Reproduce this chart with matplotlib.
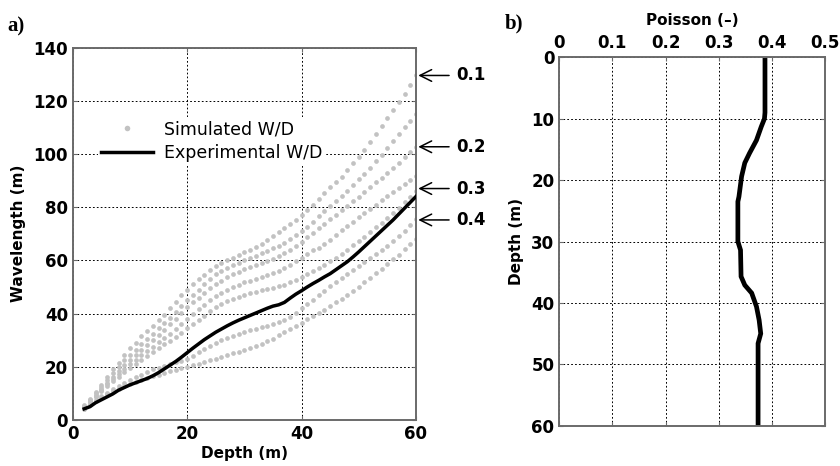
import matplotlib
matplotlib.use("Agg")
import matplotlib.pyplot as plt
from matplotlib.lines import Line2D

# ---------------------------------------------------------------- data
# simulated W/D curves, one value per metre of depth (2 .. 60 m)
depth_sim = list(range(2, 61))

sim_01 = [5.5, 8, 10.5, 13, 16, 19, 21.5, 24.5, 27, 29, 31.5, 33.5, 35.5, 37.5, 39.5,
          42, 44.5, 47, 49, 51, 53, 54.5, 56.5, 58, 59, 60, 61, 62, 63, 64,
          65, 66, 67.5, 69, 70.5, 72, 73.5, 75, 77, 79, 81, 83, 85.5, 87.5, 89.5,
          91.5, 94, 96.5, 99, 101.5, 104.5, 107.5, 110.5, 113.5, 116.5, 119.5, 122.5, 126, 129.5]
sim_015 = [5.2, 7.5, 10, 12.5, 15, 17.5, 20, 22.5, 24.5, 26.5, 28.5, 30.5, 32.5, 34.5, 36.5,
           38.5, 40.5, 43, 45, 47, 49, 51, 53, 54.8, 56, 57.2, 58.2, 59.2, 60, 60.8,
           61.7, 62.6, 63.5, 64.5, 65.5, 66.7, 68, 69.5, 71, 72.7, 74.5, 76.5, 78.5, 80.5, 82.3,
           84.2, 86.2, 88.3, 90.4, 92.6, 94.8, 97.2, 99.7, 102.2, 104.8, 107.4, 110, 112.5, 115]
sim_02 = [5, 7.2, 9.5, 11.8, 14, 16.3, 18.5, 20.6, 22.6, 24.5, 26.4, 28.3, 30.2, 32, 34,
          36, 38, 40.2, 42.4, 44.3, 46, 47.8, 49.5, 51, 52.4, 53.6, 54.7, 55.7, 56.6, 57.4,
          58.2, 59, 59.8, 60.7, 61.6, 62.7, 64, 65.5, 67, 68.6, 70.3, 72, 73.8, 75.5, 77.2,
          78.9, 80.6, 82.3, 84, 85.8, 87.5, 89.3, 91.1, 92.9, 94.8, 96.7, 98.7, 100.7, 102.7]
sim_025 = [4.8, 7, 9.2, 11.3, 13.4, 15.4, 17.3, 19.2, 21, 22.7, 24.4, 26, 27.6, 29.2, 30.8,
           32.5, 34.3, 36.2, 38.1, 39.9, 41.6, 43.3, 45, 46.5, 47.8, 49, 50, 50.9, 51.7, 52.4,
           53.1, 53.8, 54.5, 55.3, 56.1, 57.1, 58.3, 59.6, 61, 62.5, 64, 64.5, 66, 67.8, 69.6,
           71.3, 73, 74.6, 76.2, 77.8, 79.4, 81, 82.6, 84.2, 85.8, 87.3, 88.8, 90.3, 91.8]
sim_03 = [4.6, 6.7, 8.8, 10.8, 12.7, 14.5, 16.2, 17.9, 19.5, 21, 22.5, 24, 25.5, 27, 28.4,
          29.8, 31.3, 32.8, 34.4, 36, 37.6, 39.2, 40.8, 42.3, 43.6, 44.7, 45.6, 46.4, 47.1, 47.7,
          48.2, 48.7, 49.2, 49.7, 50.2, 50.9, 51.8, 52.8, 53.9, 55, 56.1, 57.2, 58.3, 59.6, 61,
          62.5, 64, 65.6, 67.2, 68.9, 70.6, 72.4, 74.2, 76, 77.8, 79.8, 81.8, 83.9, 86]
sim_04 = [4.2, 5.9, 7.5, 9, 10.3, 11.5, 12.7, 13.9, 15, 16.1, 17.1, 18.1, 19.1, 19.6, 20.3,
          21, 21.7, 22.3, 23, 24.2, 25.4, 26.6, 27.8, 29, 30, 30.9, 31.7, 32.4, 33.1, 33.7,
          34.3, 34.9, 35.5, 36.1, 36.7, 37.5, 38.8, 40.3, 42, 43.6, 45.2, 46.9, 48.6, 50.2, 51.8,
          53.3, 54.8, 56.3, 57.8, 59.3, 60.8, 62.3, 63.8, 65.4, 67.2, 69, 71, 73.2, 75.4]
sim_045 = [4, 5.5, 7, 8.4, 9.6, 10.8, 11.8, 12.7, 13.5, 14.3, 15, 15.7, 16.4, 17.1, 17.7,
           18.3, 18.9, 19.4, 20, 20.6, 21.2, 21.9, 22.5, 23.1, 23.7, 24.3, 25, 25.6, 26.2, 27,
           27.8, 28.7, 29.6, 30.6, 31.8, 33, 34.2, 35.4, 36.6, 37.8, 39, 40.2, 41.5, 43, 44.3,
           45.6, 47, 48.5, 50, 51.7, 53.4, 55.1, 56.8, 58.6, 60.4, 62.2, 64.1, 66, 68]
sim_curves = [sim_01, sim_015, sim_02, sim_025, sim_03, sim_04, sim_045]

# experimental W/D
exp_wd = [4.2, 5, 6.5, 7.6, 8.7, 9.8, 11.2, 12.2, 13.2, 14, 14.8, 15.6, 16.6, 17.8, 19.2,
          20.6, 22, 23.6, 25.3, 27, 28.6, 30.2, 31.6, 33, 34.2, 35.4, 36.5, 37.5, 38.4, 39.3,
          40.2, 41.1, 42, 42.8, 43.3, 44.2, 45.8, 47.3, 48.6, 50, 51.3, 52.5, 53.8, 55, 56.5,
          58, 59.5, 61.3, 63.2, 65.2, 67.2, 69.2, 71.2, 73.2, 75.2, 77.4, 79.6, 81.8, 84]

# arrow labels (Poisson ratio of the simulated curve) and where they point
arrow_labels = ["0.1", "0.2", "0.3", "0.4"]
arrow_values = [129.5, 102.7, 87, 75.2]

# Poisson profile
poisson_depth = [0.5, 9, 10, 11.3, 13.5, 15.6, 17.2, 19.4, 22.7, 23.5, 26.5, 30, 31.4,
                 35.7, 37.1, 38.4, 40.6, 42.8, 45, 46.6, 60]
poisson_value = [0.387, 0.387, 0.386, 0.380, 0.371, 0.358, 0.349, 0.343, 0.338, 0.336, 0.336,
                 0.336, 0.341, 0.342, 0.349, 0.362, 0.371, 0.376, 0.379, 0.374, 0.374]

# ---------------------------------------------------------------- style
DOT_GREY = "#c2c2c2"
SPINE_GREY = "#6a6a6a"
GRID_STYLE = dict(color="black", linestyle=(0, (1.8, 2.2)), linewidth=0.7)

fig = plt.figure(figsize=(8.4, 4.66), dpi=100)
fig.patch.set_facecolor("white")


def style_axes(ax):
    for sp in ax.spines.values():
        sp.set_color(SPINE_GREY)
        sp.set_linewidth(1.4)
    ax.grid(True, **GRID_STYLE)
    ax.set_axisbelow(True)
    ax.tick_params(direction="in", length=3, width=0.8, color=SPINE_GREY,
                   labelsize=12, pad=3.5, top=True, right=True)
    for lab in ax.get_xticklabels() + ax.get_yticklabels():
        lab.set_fontweight("bold")


# ---------------------------------------------------------------- panel a
ax1 = fig.add_axes([0.0866, 0.0987, 0.4086, 0.7993])

for curve in sim_curves:
    ax1.plot(depth_sim, curve, linestyle="none", marker="o", markersize=3.4,
             markerfacecolor=DOT_GREY, markeredgecolor="none", zorder=2)
ax1.plot(depth_sim, exp_wd, color="black", linewidth=2.5, zorder=3)

ax1.set_xlim(0, 60)
ax1.set_ylim(0, 140)
ax1.set_xticks([0, 20, 40, 60])
ax1.set_yticks(range(0, 141, 20))
style_axes(ax1)
ax1.set_xlabel("Depth (m)", fontsize=11, fontweight="bold", labelpad=2)
ax1.set_ylabel("Wavelength (m)", fontsize=11, fontweight="bold", labelpad=5)

handles = [
    Line2D([], [], linestyle="none", marker="o", markersize=4,
           markerfacecolor=DOT_GREY, markeredgecolor="none"),
    Line2D([], [], color="black", linewidth=2.5),
]
leg = ax1.legend(handles, ["Simulated W/D", "Experimental W/D"], loc="center",
                 bbox_to_anchor=(0.405, 0.748), fontsize=12.5, frameon=True,
                 handlelength=3.0, handletextpad=0.6, labelspacing=0.35,
                 borderpad=0.2, borderaxespad=0)
leg.get_frame().set_facecolor("white")
leg.get_frame().set_edgecolor("none")
leg.get_frame().set_alpha(1)

for lab, val in zip(arrow_labels, arrow_values):
    ax1.annotate(lab, xy=(60.4, val), xytext=(67.0, val), textcoords="data",
                 ha="left", va="center", fontsize=12, fontweight="bold",
                 annotation_clip=False,
                 arrowprops=dict(arrowstyle="->,head_length=0.7,head_width=0.35",
                                 color="black", linewidth=1.1,
                                 shrinkA=3, shrinkB=0))

# ---------------------------------------------------------------- panel b
ax2 = fig.add_axes([0.6658, 0.0865, 0.3164, 0.7905])
ax2.plot(poisson_value, poisson_depth, color="black", linewidth=3.4,
         solid_joinstyle="miter")
ax2.set_xlim(0, 0.5)
ax2.set_ylim(60, 0)
ax2.xaxis.tick_top()
ax2.xaxis.set_label_position("top")
ax2.set_xticks([0, 0.1, 0.2, 0.3, 0.4, 0.5])
ax2.set_xticklabels(["0", "0.1", "0.2", "0.3", "0.4", "0.5"])
ax2.set_yticks(range(0, 61, 10))
style_axes(ax2)
ax2.tick_params(bottom=True, labelbottom=False, labeltop=True)
ax2.set_xlabel("Poisson (\u2013)", fontsize=11, fontweight="bold", labelpad=7)
ax2.set_ylabel("Depth (m)", fontsize=11, fontweight="bold", labelpad=5)

# panel letters
fig.text(0.009, 1 - 31 / 466, "a)", family="Liberation Serif", fontweight="bold",
         fontsize=15, va="baseline")
fig.text(0.601, 1 - 28 / 466, "b)", family="Liberation Serif", fontweight="bold",
         fontsize=15, va="baseline")

fig.savefig("out.png", dpi=100)
